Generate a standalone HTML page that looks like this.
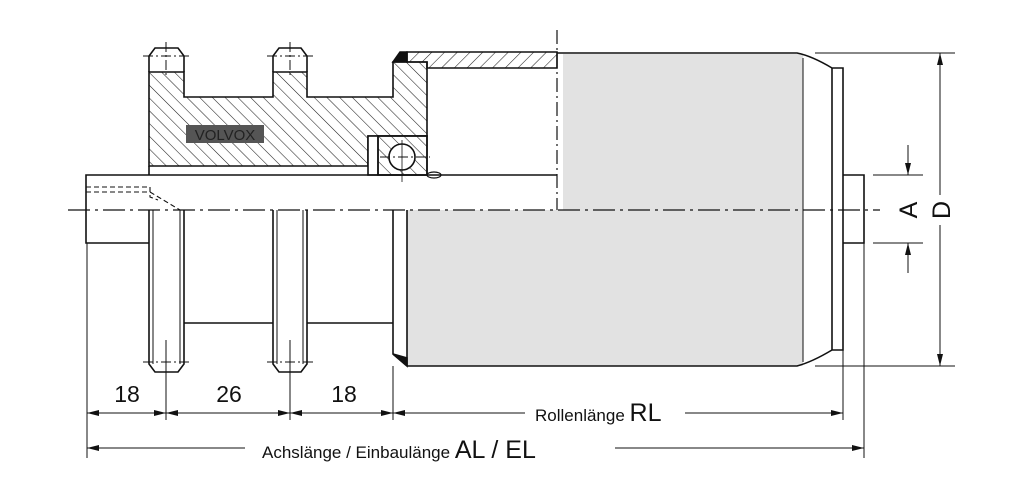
<!DOCTYPE html>
<html><head><meta charset="utf-8"><style>
html,body{margin:0;padding:0;background:#fff;}
svg{display:block;}
text{font-family:"Liberation Sans",sans-serif;fill:#111;}
</style></head><body>
<svg width="1024" height="504" viewBox="0 0 1024 504" xmlns="http://www.w3.org/2000/svg">
<defs>
<pattern id="h1" patternUnits="userSpaceOnUse" width="9" height="9" patternTransform="rotate(45)">
<line x1="0" y1="0" x2="0" y2="9" stroke="#222" stroke-width="1.1"/></pattern>
<pattern id="h2" patternUnits="userSpaceOnUse" width="9" height="9" patternTransform="rotate(-45)">
<line x1="0" y1="0" x2="0" y2="9" stroke="#222" stroke-width="1.1"/></pattern>
<marker id="ar" viewBox="0 0 12 6" refX="12" refY="3" markerWidth="12" markerHeight="6" orient="auto-start-reverse" markerUnits="userSpaceOnUse"><path d="M0,0 L12,3 L0,6 z" fill="#111"/></marker>
</defs>
<g stroke="#111" fill="none" stroke-width="1.6">
<rect x="563" y="54" width="240" height="156" fill="#e2e2e2" stroke="none"/>
<rect x="407" y="210" width="396" height="156" fill="#e2e2e2" stroke="none"/>
<path d="M557,53 L797,53 Q812,56 832,68 L843,68 L843,350 L832,350 Q812,362 797,366 L407,366"/>
<line x1="803" y1="58" x2="803" y2="362" stroke-width="1"/>
<line x1="832" y1="68" x2="832" y2="350"/>
<path d="M407,210 L407,366 M393,210 L393,354 L407,366"/>
<path d="M393,354 L407,366 L407,358 Z" fill="#111"/>
<path d="M407,52 L557,52 L557,68 L427,68 L427,62 L407,62 Z" fill="url(#h1)"/>
<path d="M393,62 L400,52 L407,52 L407,62 Z" fill="#111"/>
<path d="M149,72 L184,72 L184,97 L273,97 L273,72 L307,72 L307,97 L393,97 L393,62 L427,62 L427,136 L368,136 L368,166 L149,166 Z" fill="url(#h2)"/>
<path d="M149,72 L149,56 L155,48 L178,48 L184,56 L184,72"/>
<path d="M273,72 L273,56 L279,48 L301,48 L307,56 L307,72"/>
<rect x="368" y="136" width="59" height="39" fill="#fff"/>
<path d="M378,136 L427,136 L427,175 L378,175 Z" fill="url(#h2)"/>
<line x1="378" y1="136" x2="378" y2="175"/>
<circle cx="402" cy="157" r="13" fill="#fff"/>
<ellipse cx="434" cy="175" rx="7" ry="3" fill="#fff" stroke-width="1.2"/>
<path d="M557,175 L86,175 L86,243 L149,243"/>
<line x1="149" y1="166" x2="149" y2="175"/>
<path d="M86,187 L150,187 L150,197 L158,200" stroke-dasharray="5,3" stroke-width="1.1"/>
<path d="M86,192 L150,192 L180,210" stroke-dasharray="5,3" stroke-width="1.1"/>
<line x1="557" y1="30" x2="557" y2="210" stroke-dasharray="14,4,2,4" stroke-width="1.2"/>
<path d="M149,210 L149,364 L155,372 L178,372 L184,364 L184,210"/>
<path d="M153,210 L153,364 M180,210 L180,364" stroke-width="1"/>
<path d="M273,210 L273,364 L279,372 L301,372 L307,364 L307,210"/>
<path d="M277,210 L277,364 M303,210 L303,364" stroke-width="1"/>
<path d="M184,323 L273,323 M307,323 L393,323"/>
<path d="M843,175 L864,175 L864,243 L843,243"/>
<line x1="68" y1="210" x2="880" y2="210" stroke-dasharray="22,5,3,5" stroke-width="1.2"/>
<g stroke-width="1" stroke-dasharray="10,3,2,3">
<line x1="166" y1="42" x2="166" y2="78"/><line x1="290" y1="42" x2="290" y2="78"/>
<line x1="143" y1="56" x2="190" y2="56"/><line x1="267" y1="56" x2="313" y2="56"/>
<line x1="143" y1="362" x2="190" y2="362"/><line x1="267" y1="362" x2="313" y2="362"/>
<line x1="380" y1="157" x2="430" y2="157"/>
</g>
<line x1="166" y1="340" x2="166" y2="420" stroke-width="1"/>
<line x1="290" y1="340" x2="290" y2="420" stroke-width="1"/>
<line x1="402" y1="140" x2="402" y2="182" stroke-width="0.8"/>
<g stroke-width="1">
<line x1="87" y1="243" x2="87" y2="458"/>
<line x1="393" y1="366" x2="393" y2="420"/>
<line x1="843" y1="350" x2="843" y2="420"/>
<line x1="864" y1="243" x2="864" y2="458"/>
<line x1="815" y1="53" x2="955" y2="53"/>
<line x1="815" y1="366" x2="955" y2="366"/>
<line x1="873" y1="175" x2="923" y2="175"/>
<line x1="873" y1="243" x2="923" y2="243"/>
</g>
<g stroke-width="1">
<line x1="87" y1="413" x2="166" y2="413" marker-start="url(#ar)" marker-end="url(#ar)"/>
<line x1="166" y1="413" x2="290" y2="413" marker-start="url(#ar)" marker-end="url(#ar)"/>
<line x1="290" y1="413" x2="393" y2="413" marker-start="url(#ar)" marker-end="url(#ar)"/>
<line x1="393" y1="413" x2="525" y2="413" marker-start="url(#ar)"/>
<line x1="685" y1="413" x2="843" y2="413" marker-end="url(#ar)"/>
<line x1="87" y1="448" x2="245" y2="448" marker-start="url(#ar)"/>
<line x1="615" y1="448" x2="864" y2="448" marker-end="url(#ar)"/>
<line x1="940" y1="53" x2="940" y2="195" marker-start="url(#ar)"/>
<line x1="940" y1="225" x2="940" y2="366" marker-end="url(#ar)"/>
<line x1="908" y1="145" x2="908" y2="175" marker-end="url(#ar)"/>
<line x1="908" y1="273" x2="908" y2="243" marker-end="url(#ar)"/>
</g>
</g>
<rect x="186" y="125" width="78" height="18" fill="#555"/>
<text x="225" y="140" font-size="15" text-anchor="middle" style="fill:#222">VOLVOX</text>
<text x="127" y="402" font-size="23" text-anchor="middle">18</text>
<text x="229" y="402" font-size="23" text-anchor="middle">26</text>
<text x="344" y="402" font-size="23" text-anchor="middle">18</text>
<text x="535" y="421" font-size="17">Rollenlänge <tspan font-size="25">RL</tspan></text>
<text x="262" y="458" font-size="17">Achslänge / Einbaulänge <tspan font-size="25"> AL  /  EL</tspan></text>
<text x="0" y="0" font-size="25" text-anchor="middle" transform="translate(917,210) rotate(-90)">A</text>
<text x="0" y="0" font-size="25" text-anchor="middle" transform="translate(950,210) rotate(-90)">D</text>
</svg>
</body></html>
